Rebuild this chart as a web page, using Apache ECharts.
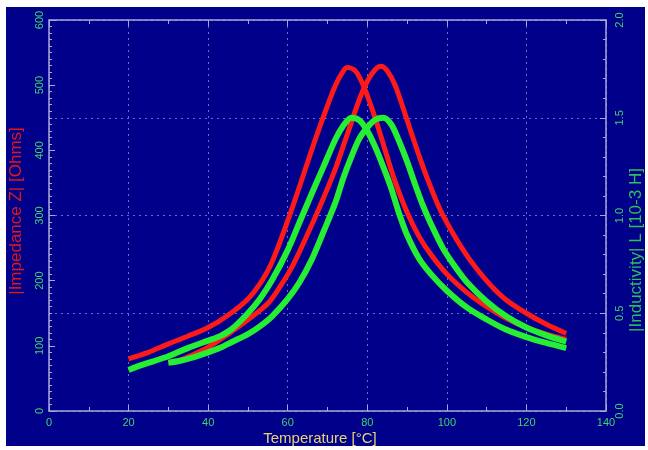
<!DOCTYPE html>
<html><head><meta charset="utf-8">
<script src="https://cdn.jsdelivr.net/npm/echarts@6/dist/echarts.min.js"></script>
<style>
html,body{margin:0;padding:0;background:#fff;width:648px;height:450px;overflow:hidden;}
#c{position:absolute;left:6px;top:7px;width:639px;height:439px;}
</style></head>
<body><div id="c"></div>
<script>
// Impedance |Z| [Ohms], left-peaked (red)
const r1T = [20,22,25,30,35,40,45,50,53,56,60,63,66,69,72,74,75,77,79,81,83,85,87,90,93,96,100,105,110,115,120,125,130];
const r1Z = [80,84,90,103,115,128,147,172,195,228,292,345,400,452,500,522,527,522,500,467,430,390,352,305,268,240,210,182,160,142,128,118,110];
// Impedance |Z| [Ohms], right-peaked (red)
const r2T = [30,33,36,40,45,50,55,58,61,63,66,69,72,75,78,80,82,83.5,85,87,89,91,93,95,98,101,104,107,111,115,120,125,130];
const r2Z = [74,78,86,98,118,140,165,190,220,245,285,327,372,425,478,506,524,529,522,500,465,428,392,358,313,278,248,222,193,170,150,133,119];
// Inductivity L [10-3 H], left-peaked (green)
const g1T = [20,23,26,30,35,40,43,46,50,53,56,60,63,66,69,72,74,76,78,80,82,84,86,88,90,93,96,100,105,110,115,120,125,130];
const g1L = [0.21,0.233,0.253,0.28,0.323,0.36,0.383,0.42,0.5,0.573,0.667,0.823,0.967,1.11,1.25,1.39,1.46,1.5,1.487,1.433,1.35,1.25,1.14,1.01,0.9,0.78,0.7,0.615,0.53,0.468,0.415,0.378,0.348,0.322];
// Inductivity L [10-3 H], right-peaked (green)
const g2T = [30,33,36,40,43,46,50,53,56,60,63,66,69,72,74,76,78,80,82,84,86,88,90,92,94,96,99,102,105,110,115,120,125,130];
const g2L = [0.247,0.257,0.273,0.3,0.323,0.353,0.393,0.433,0.483,0.573,0.66,0.773,0.917,1.067,1.193,1.3,1.393,1.45,1.49,1.5,1.467,1.38,1.277,1.16,1.05,0.957,0.833,0.74,0.66,0.56,0.483,0.427,0.387,0.355];

const xTitle = 'Temperature [°C]';
const yLeftTitle = '|Impedance Z| [Ohms]';
const yRightTitle = '|Inductivity| L [10-3 H]';

const pair = (xs, ys) => xs.map((x, i) => [x, ys[i]]);

const axisCol = '#a8a8d8';
const labCol = '#3fd36e';
const gridCol = '#6a6ac8';

const chart = echarts.init(document.getElementById('c'));
chart.setOption({
  backgroundColor: '#00008a',
  animation: false,
  grid: {left: 43, top: 13, width: 557, height: 391, containLabel: false},
  xAxis: [{
    type: 'value', min: 0, max: 140, interval: 20, position: 'bottom',
    axisLine: {show: true, onZero: false, lineStyle: {color: axisCol, width: 1.5}},
    axisTick: {show: true, inside: true, length: 6, lineStyle: {color: axisCol}},
    minorTick: {show: true, splitNumber: 2, length: 4, lineStyle: {color: axisCol}},
    axisLabel: {color: labCol, fontSize: 11, fontFamily: 'Liberation Sans', margin: 6},
    splitLine: {show: true, lineStyle: {color: gridCol, type: [2, 4], width: 1}}
  }, {
    type: 'value', min: 0, max: 140, interval: 20, position: 'top',
    axisLine: {show: true, onZero: false, lineStyle: {color: axisCol, width: 1.5}},
    axisTick: {show: true, inside: true, length: 6, lineStyle: {color: axisCol}},
    minorTick: {show: true, splitNumber: 2, length: 4, lineStyle: {color: axisCol}},
    axisLabel: {show: false}, splitLine: {show: false}
  }],
  yAxis: [{
    type: 'value', min: 0, max: 600, interval: 100, position: 'left',
    axisLine: {show: true, onZero: false, lineStyle: {color: axisCol, width: 1.5}},
    axisTick: {show: true, inside: true, length: 6, lineStyle: {color: axisCol}},
    minorTick: {show: true, splitNumber: 10, length: 3, lineStyle: {color: axisCol}},
    axisLabel: {color: labCol, fontSize: 11, fontFamily: 'Liberation Sans', rotate: 90, margin: 4},
    splitLine: {show: false}
  }, {
    type: 'value', min: 0, max: 2, interval: 0.5, position: 'right',
    axisLine: {show: true, onZero: false, lineStyle: {color: axisCol, width: 1.5}},
    axisTick: {show: true, inside: true, length: 6, lineStyle: {color: axisCol}},
    minorTick: {show: true, splitNumber: 5, length: 3, lineStyle: {color: axisCol}},
    axisLabel: {color: labCol, fontSize: 11, fontFamily: 'Liberation Sans', rotate: 90, margin: 8,
      formatter: v => v.toFixed(1)},
    splitLine: {show: true, lineStyle: {color: gridCol, type: [2, 4], width: 1}}
  }],
  series: [
    {type: 'line', yAxisIndex: 0, data: pair(r1T, r1Z), smooth: 0.3, showSymbol: false,
      lineStyle: {color: '#ff1a1a', width: 5}},
    {type: 'line', yAxisIndex: 0, data: pair(r2T, r2Z), smooth: 0.3, showSymbol: false,
      lineStyle: {color: '#ff1a1a', width: 5}},
    {type: 'line', yAxisIndex: 1, data: pair(g1T, g1L), smooth: 0.3, showSymbol: false,
      lineStyle: {color: '#26ee33', width: 6}},
    {type: 'line', yAxisIndex: 1, data: pair(g2T, g2L), smooth: 0.3, showSymbol: false,
      lineStyle: {color: '#26ee33', width: 6}}
  ],
  graphic: [
    {type: 'text', x: 314, y: 432, style: {text: xTitle, fill: '#e8d474', font: '15px "Liberation Sans"', align: 'center', verticalAlign: 'middle'}},
    {type: 'text', x: 10, y: 204, rotation: Math.PI / 2, style: {text: yLeftTitle, fill: '#e01818', font: '17px "Liberation Sans"', align: 'center', verticalAlign: 'middle'}},
    {type: 'text', x: 630, y: 243, rotation: Math.PI / 2, style: {text: yRightTitle, fill: '#2fbf5a', font: '17px "Liberation Sans"', align: 'center', verticalAlign: 'middle'}}
  ]
});
</script></body></html>
